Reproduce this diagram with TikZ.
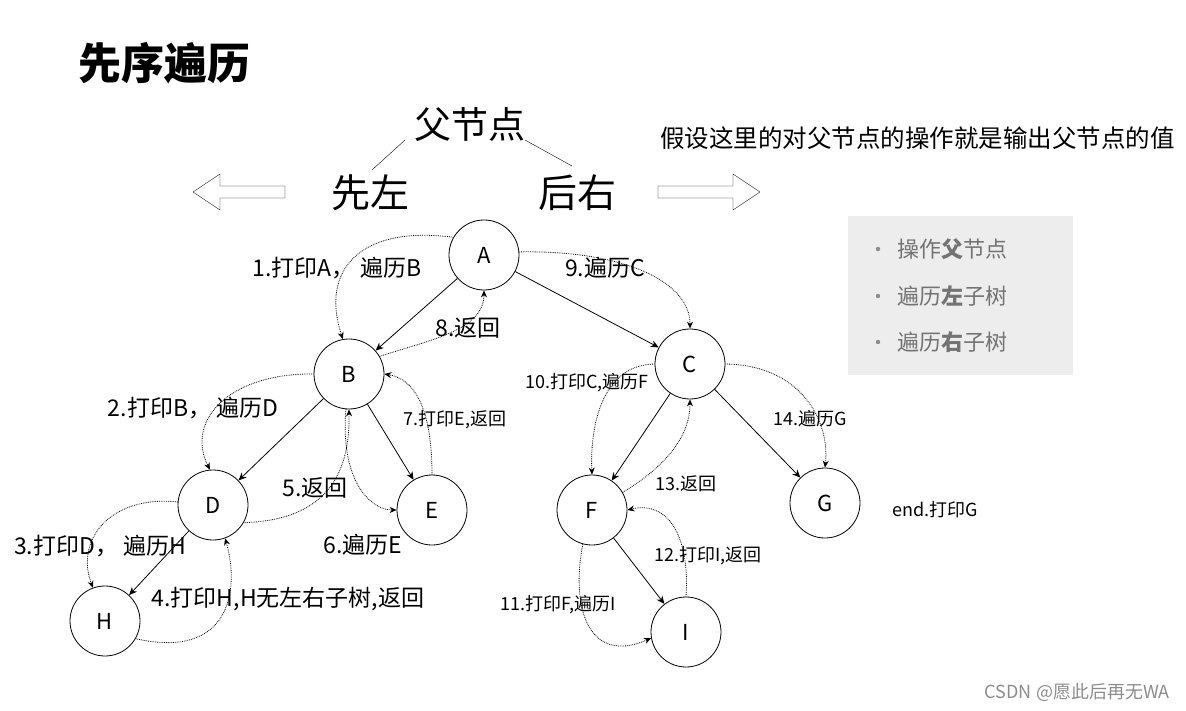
\documentclass[tikz,border=0pt]{standalone}
\usepackage{fontspec}
\setmainfont{Noto Sans CJK SC}
\usetikzlibrary{arrows.meta}
\begin{document}
\begin{tikzpicture}[x=1pt,y=-1pt,
 nd/.style={circle,draw,thick,minimum size=70pt,inner sep=0pt,font=\fontsize{22}{22}\selectfont},
 lb/.style={inner sep=0pt,font=\fontsize{23}{23}\selectfont},
 sl/.style={inner sep=0pt,font=\fontsize{18}{18}\selectfont},
 tr/.style={-{Stealth[length=8pt,width=7pt]},thick},
 dt/.style={-{Stealth[length=7pt,width=6pt]},densely dotted,thick},
 bl/.style={inner sep=0pt,font=\fontsize{22}{22}\selectfont,text=black!55}]
\useasboundingbox (0,0) rectangle (1186,711);
\node[inner sep=0pt,font=\fontsize{43}{43}\selectfont\bfseries,anchor=west] (title) at (78,63) {先序遍历};
\node[inner sep=0pt,font=\fontsize{37}{37}\selectfont] (fu) at (470,124) {父节点};
\node[inner sep=0pt,font=\fontsize{39}{39}\selectfont] (xz) at (370,193) {先左};
\node[inner sep=0pt,font=\fontsize{39}{39}\selectfont] (hy) at (577,193) {后右};
\coordinate (l1) at (405,140); \coordinate (l2) at (372,170);
\coordinate (r1) at (525,140); \coordinate (r2) at (572,166);
\draw (l1) -- (l2); \draw (r1) -- (r2);
\draw (285,186) -- (220,186) -- (220,174) -- (193,192) -- (220,210) -- (220,198) -- (285,198) -- cycle;
\draw (658,186) -- (733,186) -- (733,174) -- (760,192) -- (733,210) -- (733,198) -- (658,198) -- cycle;
\node[inner sep=0pt,font=\fontsize{24.5}{24.5}\selectfont,anchor=east] (hint) at (1175,138) {假设这里的对父节点的操作就是输出父节点的值};
\fill[black!7] (848,216) rectangle (1073,375);
\node[bl,anchor=west] (b1) at (897,249) {操作\textbf{父}节点};
\node[bl,anchor=west] (b2) at (897,296) {遍历\textbf{左}子树};
\node[bl,anchor=west] (b3) at (897,342) {遍历\textbf{右}子树};
\foreach \yy in {249,296,342} \fill[black!45] (878,\yy) circle (2.2pt);
\node[nd] (A) at (484,255) {A};
\node[nd] (B) at (349,374) {B};
\node[nd] (C) at (690,364) {C};
\node[nd] (D) at (213,505) {D};
\node[nd] (E) at (432,510) {E};
\node[nd] (F) at (592,510) {F};
\node[nd] (G) at (825,503) {G};
\node[nd] (H) at (105,621) {H};
\node[nd] (I) at (686,632) {I};
\draw[tr] (A) -- (B); \draw[tr] (A) -- (C);
\draw[tr] (B) -- (D); \draw[tr] (B) -- (E);
\draw[tr] (C) -- (F); \draw[tr] (C) -- (G);
\draw[tr] (D) -- (H); \draw[tr] (F) -- (I);
\draw[dt] (A.150) .. controls (360,225) and (320,270) .. (B.100);
\draw[dt] (B.30) .. controls (430,340) and (484,330) .. (A.270);
\draw[dt] (A.5) .. controls (620,250) and (690,280) .. (C.90);
\draw[dt] (B.180) .. controls (230,373) and (185,420) .. (D.95);
\draw[dt] (D.-30) .. controls (330,520) and (350,470) .. (B.270);
\draw[dt] (B.265) .. controls (340,480) and (370,510) .. (E.180);
\draw[dt] (E.90) .. controls (432,420) and (420,380) .. (B.0);
\draw[dt] (D.175) .. controls (110,495) and (75,540) .. (H.110);
\draw[dt] (H.-30) .. controls (230,660) and (240,590) .. (D.-70);
\draw[dt] (C.180) .. controls (600,365) and (590,430) .. (F.90);
\draw[dt] (F.30) .. controls (660,470) and (690,440) .. (C.270);
\draw[dt] (I.90) .. controls (690,540) and (670,500) .. (F.0);
\draw[dt] (F.255) .. controls (570,610) and (590,665) .. (I.190);
\draw[dt] (C.0) .. controls (800,365) and (830,420) .. (G.90);
\node[lb] (t1) at (337,268) {1.打印A， 遍历B};
\node[lb] (t8) at (468,328) {8.返回};
\node[lb] (t9) at (605,268) {9.遍历C};
\node[lb] (t2) at (193,408) {2.打印B， 遍历D};
\node[sl] (t7) at (455,420) {7.打印E,返回};
\node[lb] (t5) at (315,488) {5.返回};
\node[lb] (t6) at (363,545) {6.遍历E};
\node[lb] (t3) at (100,546) {3.打印D， 遍历H};
\node[lb] (t4) at (288,599) {4.打印H,H无左右子树,返回};
\node[sl] (t10) at (587,383) {10.打印C,遍历F};
\node[sl] (t14) at (810,419) {14.遍历G};
\node[sl] (t13) at (686,484) {13.返回};
\node[sl] (t12) at (708,556) {12.打印I,返回};
\node[sl] (t11) at (558,605) {11.打印F,遍历I};
\node[sl] (te) at (935,510) {end.打印G};
\node[inner sep=0pt,font=\fontsize{18}{18}\selectfont,text=black!45,anchor=east] (wm) at (1170,692) {CSDN @愿此后再无WA};
\end{tikzpicture}
\end{document}
